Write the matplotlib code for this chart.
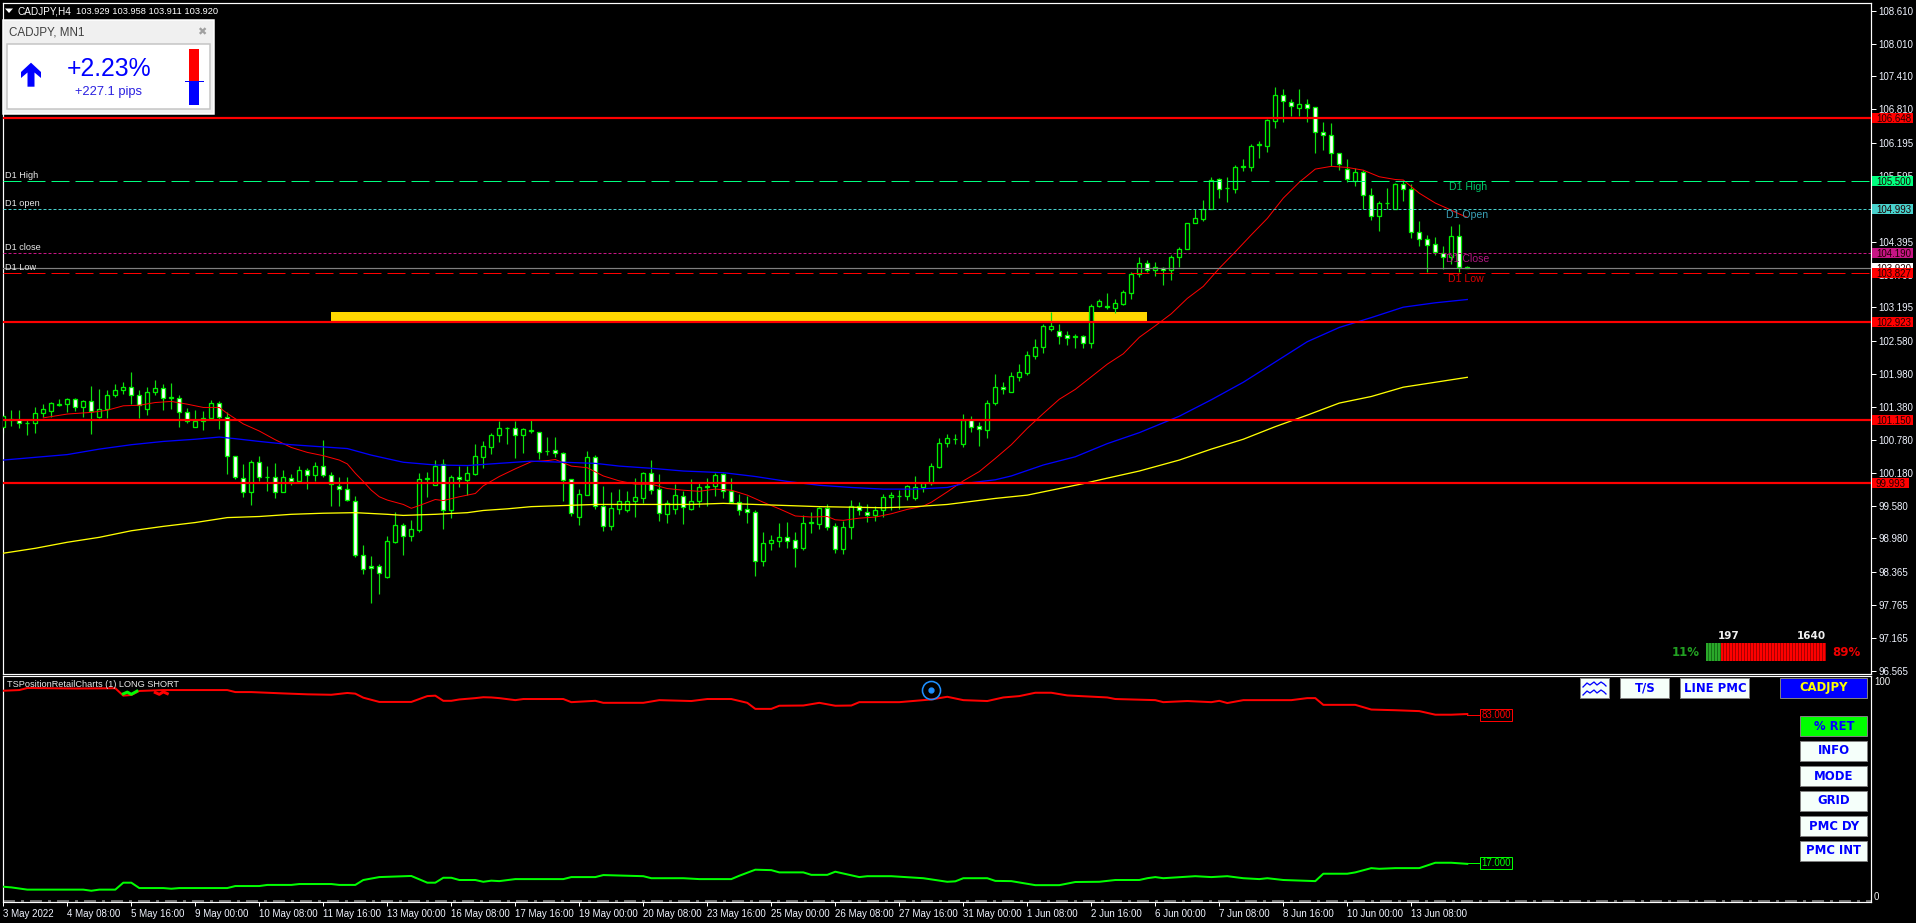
import matplotlib
matplotlib.use("Agg")
import matplotlib.pyplot as plt
from matplotlib.patches import Rectangle

W, H = 1916, 923
FONT = 'Liberation Sans'

# H4 candles
opens = [101.02, 101.15, 101.15, 101.08, 101.08, 101.26, 101.30, 101.42, 101.43, 101.52,
         101.37, 101.48, 101.19, 101.35, 101.59, 101.68, 101.75, 101.59, 101.35, 101.66,
         101.72, 101.55, 101.54, 101.28, 101.02, 101.12, 101.18, 101.45, 101.20, 100.49,
         100.08, 99.83, 100.37, 100.10, 100.11, 99.83, 100.09, 100.03, 100.22, 100.14,
         100.31, 100.14, 99.93, 99.89, 99.67, 98.67, 98.47, 98.47, 98.28, 98.92,
         99.22, 99.03, 99.13, 100.06, 99.96, 100.33, 99.50, 100.11, 100.05, 100.16,
         100.47, 100.65, 100.86, 100.99, 100.99, 100.86, 100.94, 100.93, 100.57, 100.59,
         100.53, 100.06, 99.38, 99.78, 100.46, 99.58, 99.21, 99.52, 99.49, 99.66,
         99.72, 100.17, 99.88, 99.43, 99.52, 99.75, 99.52, 99.67, 99.92, 99.94,
         100.15, 99.84, 99.65, 99.51, 99.47, 98.57, 98.89, 98.94, 99.00, 98.95,
         98.81, 99.27, 99.25, 99.53, 99.20, 98.78, 99.18, 99.58, 99.46, 99.41,
         99.49, 99.73, 99.75, 99.75, 99.71, 99.91, 99.99, 100.28, 100.73, 100.79,
         100.71, 101.14, 101.04, 100.95, 101.46, 101.75, 101.66, 101.93, 102.00, 102.31,
         102.48, 102.81, 102.76, 102.69, 102.66, 102.67, 102.55, 103.23, 103.23, 103.19,
         103.26, 103.45, 103.80, 104.00, 103.87, 103.92, 103.87, 104.11, 104.26, 104.73,
         104.81, 105.00, 105.53, 105.37, 105.36, 105.75, 105.76, 106.16, 106.15, 106.60,
         107.07, 106.95, 106.84, 106.90, 106.85, 106.39, 106.35, 106.01, 105.73, 105.51,
         105.66, 105.24, 104.87, 105.10, 105.00, 105.44, 105.35, 104.58, 104.44, 104.35,
         104.19, 104.12, 104.49, 103.929]
highs = [101.29, 101.32, 101.32, 101.15, 101.38, 101.43, 101.47, 101.52, 101.54, 101.54,
         101.51, 101.76, 101.71, 101.69, 101.80, 101.84, 102.02, 101.69, 101.74, 101.87,
         101.80, 101.82, 101.60, 101.36, 101.32, 101.31, 101.51, 101.48, 101.28, 100.49,
         100.34, 100.41, 100.48, 100.30, 100.36, 100.23, 100.16, 100.31, 100.26, 100.37,
         100.78, 100.19, 100.11, 100.11, 99.75, 98.86, 98.66, 98.51, 99.02, 99.47,
         99.26, 99.32, 100.18, 100.19, 100.41, 100.43, 100.14, 100.30, 100.30, 100.70,
         100.75, 100.91, 101.12, 101.01, 101.12, 100.99, 101.14, 100.93, 100.83, 100.83,
         100.55, 100.06, 99.88, 100.58, 100.51, 99.94, 99.83, 99.88, 99.85, 100.08,
         100.19, 100.41, 100.16, 99.69, 99.97, 99.85, 100.06, 99.99, 100.08, 100.17,
         100.18, 100.08, 99.79, 99.75, 99.50, 99.10, 99.04, 99.26, 99.28, 99.10,
         99.41, 99.46, 99.56, 99.61, 99.26, 99.30, 99.68, 99.64, 99.61, 99.57,
         99.79, 99.83, 99.86, 99.95, 100.12, 100.01, 100.36, 100.81, 100.89, 100.88,
         101.25, 101.21, 101.10, 101.51, 101.98, 101.83, 102.02, 102.16, 102.40, 102.62,
         102.89, 103.12, 102.89, 102.76, 102.71, 102.69, 103.26, 103.35, 103.46, 103.35,
         103.51, 103.84, 104.12, 104.06, 104.02, 103.94, 104.15, 104.30, 104.73, 104.99,
         105.16, 105.58, 105.56, 105.58, 105.79, 105.90, 106.18, 106.23, 106.63, 107.22,
         107.18, 107.00, 107.18, 107.00, 106.85, 106.58, 106.56, 106.01, 105.90, 105.74,
         105.70, 105.38, 105.14, 105.38, 105.46, 105.50, 105.45, 104.77, 104.52, 104.48,
         104.32, 104.68, 104.72, 103.958]
lows = [100.91, 101.03, 100.99, 100.87, 100.91, 101.20, 101.20, 101.40, 101.29, 101.31,
        101.20, 100.89, 101.17, 101.17, 101.56, 101.62, 101.43, 101.17, 101.23, 101.60,
        101.32, 101.35, 101.02, 101.09, 101.01, 100.96, 101.16, 100.98, 100.16, 100.07,
        99.74, 99.59, 100.02, 99.85, 99.72, 99.82, 99.95, 100.02, 99.88, 100.02,
        100.11, 99.57, 99.57, 99.67, 98.65, 98.33, 97.81, 97.97, 98.26, 98.90,
        98.68, 98.93, 99.10, 99.74, 99.95, 99.15, 99.35, 99.92, 99.77, 100.14,
        100.27, 100.52, 100.74, 100.70, 100.45, 100.53, 100.90, 100.43, 100.50, 100.46,
        99.66, 99.39, 99.23, 99.77, 99.52, 99.12, 99.13, 99.43, 99.47, 99.37,
        99.62, 99.79, 99.30, 99.26, 99.43, 99.24, 99.50, 99.55, 99.57, 99.75,
        99.71, 99.62, 99.41, 99.26, 98.29, 98.48, 98.77, 98.82, 98.81, 98.46,
        98.77, 99.08, 99.15, 99.13, 98.71, 98.70, 98.97, 99.41, 99.28, 99.30,
        99.37, 99.50, 99.52, 99.68, 99.68, 99.83, 99.95, 100.27, 100.65, 100.70,
        100.65, 100.92, 100.67, 100.81, 101.41, 101.62, 101.65, 101.85, 101.96, 102.25,
        102.36, 102.77, 102.53, 102.51, 102.45, 102.45, 102.45, 103.20, 103.17, 103.09,
        103.24, 103.35, 103.75, 103.84, 103.77, 103.60, 103.70, 103.93, 104.26, 104.73,
        104.77, 105.00, 105.19, 105.12, 105.28, 105.69, 105.69, 105.92, 106.03, 106.47,
        106.58, 106.69, 106.68, 106.58, 106.01, 106.07, 105.78, 105.70, 105.48, 105.41,
        104.99, 104.79, 104.59, 105.00, 105.00, 105.14, 104.46, 104.32, 103.84, 104.15,
        103.90, 103.99, 103.84, 103.911]
closes = [101.21, 101.16, 101.08, 101.09, 101.26, 101.34, 101.45, 101.44, 101.52, 101.37,
          101.48, 101.31, 101.35, 101.59, 101.68, 101.75, 101.59, 101.41, 101.66, 101.72,
          101.55, 101.56, 101.28, 101.12, 101.13, 101.18, 101.45, 101.20, 100.49, 100.11,
          99.83, 100.37, 100.11, 100.11, 99.83, 100.11, 100.03, 100.22, 100.14, 100.31,
          100.14, 99.98, 99.89, 99.69, 98.67, 98.43, 98.44, 98.34, 98.93, 99.22,
          99.03, 99.15, 100.06, 100.09, 100.31, 99.50, 100.11, 100.06, 100.17, 100.48,
          100.67, 100.86, 100.99, 101.00, 100.86, 100.97, 100.95, 100.56, 100.58, 100.53,
          100.05, 99.45, 99.79, 100.46, 99.58, 99.21, 99.53, 99.66, 99.66, 99.73,
          100.17, 99.87, 99.45, 99.62, 99.77, 99.55, 99.66, 99.91, 99.93, 100.13,
          99.84, 99.65, 99.50, 99.47, 98.57, 98.89, 98.95, 99.00, 98.94, 98.81,
          99.26, 99.28, 99.53, 99.19, 98.78, 99.18, 99.58, 99.49, 99.41, 99.49,
          99.73, 99.77, 99.76, 99.93, 99.91, 99.99, 100.30, 100.73, 100.81, 100.80,
          101.14, 101.02, 100.97, 101.46, 101.75, 101.71, 101.94, 102.01, 102.32, 102.48,
          102.85, 102.85, 102.68, 102.64, 102.67, 102.55, 103.23, 103.31, 103.20, 103.27,
          103.47, 103.80, 104.00, 103.87, 103.93, 103.87, 104.11, 104.26, 104.73, 104.82,
          105.00, 105.52, 105.36, 105.38, 105.75, 105.78, 106.15, 106.17, 106.61, 107.07,
          106.96, 106.88, 106.90, 106.84, 106.39, 106.35, 106.01, 105.81, 105.53, 105.66,
          105.24, 104.87, 105.11, 105.11, 105.44, 105.35, 104.58, 104.44, 104.34, 104.20,
          104.11, 104.49, 103.94, 103.920]

# moving averages, read at these bars
red_ma_bars = [5, 8, 11, 13, 15, 17, 19, 21, 23, 25, 27, 28, 30, 32, 34, 36, 38, 40, 42, 43,
               44, 45, 46, 47, 48, 50, 51, 52, 54, 55, 57, 59, 60, 62, 64, 66, 68, 69, 71, 73,
               75, 77, 79, 81, 83, 85, 87, 89, 91, 93, 95, 97, 99, 101, 103, 104, 105, 107, 109, 111,
               113, 115, 116, 118, 120, 122, 124, 126, 128, 130, 132, 134, 136, 138, 140, 142, 144, 146, 148, 150,
               152, 154, 156, 158, 160, 162, 164, 166, 168, 170, 172, 174, 175, 177, 179, 181, 182, 183]
red_ma = [101.18, 101.25, 101.28, 101.32, 101.40, 101.41, 101.46, 101.48, 101.43, 101.37, 101.37, 101.26, 101.07, 100.94, 100.78, 100.64, 100.55, 100.49, 100.41, 100.34,
          100.17, 100.02, 99.86, 99.74, 99.68, 99.60, 99.53, 99.58, 99.69, 99.67, 99.74, 99.80, 99.94, 100.11, 100.25, 100.38, 100.40, 100.42, 100.30, 100.27,
          100.12, 100.03, 99.97, 99.97, 99.89, 99.86, 99.84, 99.88, 99.86, 99.77, 99.64, 99.52, 99.39, 99.37, 99.38, 99.32, 99.31, 99.35, 99.37, 99.43,
          99.51, 99.57, 99.64, 99.83, 100.03, 100.20, 100.44, 100.69, 100.99, 101.26, 101.52, 101.70, 101.93, 102.16, 102.35, 102.65, 102.86, 103.08, 103.36, 103.58,
          103.91, 104.21, 104.52, 104.82, 105.19, 105.48, 105.72, 105.77, 105.75, 105.70, 105.58, 105.53, 105.52, 105.28, 105.10, 104.97, 104.90, 104.84]
blue_ma_bars = [0, 4, 8, 12, 16, 20, 24, 27, 29, 32, 36, 40, 43, 46, 50, 54, 58, 62, 66, 70,
                74, 77, 81, 85, 90, 94, 98, 102, 106, 110, 114, 118, 120, 124, 126, 130, 134, 138, 142, 147,
                151, 155, 159, 163, 167, 171, 175, 179, 183]
blue_ma = [100.41, 100.46, 100.51, 100.61, 100.69, 100.75, 100.79, 100.83, 100.80, 100.75, 100.69, 100.65, 100.62, 100.50, 100.37, 100.32, 100.31, 100.35, 100.39, 100.37,
           100.35, 100.30, 100.26, 100.21, 100.18, 100.11, 100.02, 99.95, 99.91, 99.88, 99.88, 99.91, 99.98, 100.05, 100.12, 100.32, 100.47, 100.71, 100.91, 101.21,
           101.51, 101.83, 102.20, 102.57, 102.83, 103.01, 103.20, 103.28, 103.34]
yellow_ma_bars = [0, 4, 8, 12, 16, 20, 24, 28, 32, 36, 40, 44, 48, 50, 54, 58, 60, 63, 66, 70,
                  74, 80, 86, 90, 94, 98, 102, 106, 110, 114, 118, 124, 128, 132, 135, 138, 142, 147, 151, 155,
                  159, 163, 167, 171, 175, 179, 183]
yellow_ma = [98.71, 98.80, 98.91, 99.00, 99.12, 99.20, 99.27, 99.36, 99.38, 99.42, 99.44, 99.45, 99.42, 99.40, 99.42, 99.45, 99.49, 99.52, 99.56, 99.58,
             99.60, 99.60, 99.60, 99.62, 99.60, 99.58, 99.56, 99.55, 99.54, 99.56, 99.60, 99.71, 99.77, 99.89, 99.98, 100.08, 100.21, 100.41, 100.61, 100.79,
             101.02, 101.23, 101.45, 101.57, 101.74, 101.83, 101.92]

# horizontal levels
red_levels = [106.648, 102.923, 101.150, 99.993]
d1_high, d1_open, d1_close, d1_low = 105.500, 104.993, 104.190, 103.827
last_price = 103.920
zone_start, zone_end, zone_low, zone_high = 41, 143, 102.95, 103.11

price_ticks = [108.610, 108.010, 107.410, 106.810, 106.195, 105.595, 104.995, 104.395, 103.795, 103.195, 102.580,
               101.980, 101.380, 100.780, 100.180, 99.580, 98.980, 98.365, 97.765, 97.165, 96.565]
date_labels = ['3 May 2022', '4 May 08:00', '5 May 16:00', '9 May 00:00', '10 May 08:00', '11 May 16:00',
               '13 May 00:00', '16 May 08:00', '17 May 16:00', '19 May 00:00', '20 May 08:00', '23 May 16:00',
               '25 May 00:00', '26 May 08:00', '27 May 16:00', '31 May 00:00', '1 Jun 08:00', '2 Jun 16:00',
               '6 Jun 00:00', '7 Jun 08:00', '8 Jun 16:00', '10 Jun 00:00', '13 Jun 08:00']

# retail positioning pane
short_bars = [0, 2, 3, 9, 14, 15, 16, 17, 20, 28, 29, 31, 35, 38, 41, 43, 44, 45, 47, 51, 53, 54, 55, 56, 57, 59, 60, 61,
              62, 64, 65, 70, 71, 74, 75, 80, 82, 86, 88, 91, 93, 94, 96, 97, 100, 102, 104, 106, 107, 112, 116, 118, 120, 123, 125, 127,
              129, 131, 133, 138, 139, 144, 145, 148, 151, 152, 153, 155, 161, 163, 164, 165, 169, 171, 174, 177, 179, 181, 183]
short_pct = [93.9, 94.2, 95.1, 94.9, 95.0, 91.7, 92.0, 93.8, 94.2, 94.2, 93.3, 93.3, 92.7, 92.3, 92.1, 92.9, 92.6, 90.8, 88.9, 88.9, 91.5, 91.7, 89.4, 89.4, 90.0, 90.6, 91.0, 90.9,
             90.6, 89.7, 90.2, 90.2, 88.8, 89.4, 88.5, 88.5, 89.7, 89.3, 90.2, 90.2, 88.5, 85.8, 85.8, 87.2, 87.3, 88.5, 87.2, 87.3, 88.8, 88.8, 90.0, 91.2, 89.7, 89.3, 90.9, 91.5,
             93.0, 93.0, 91.8, 90.9, 90.2, 89.7, 88.8, 89.3, 88.8, 89.4, 88.4, 89.7, 89.7, 90.6, 90.6, 87.6, 87.6, 85.5, 85.2, 84.8, 83.2, 83.2, 83.5]
long_bars = [0, 1, 3, 10, 11, 12, 14, 15, 16, 17, 20, 21, 22, 28, 29, 32, 33, 36, 37, 41, 42, 44, 45, 47, 51, 53, 54, 55, 56, 57, 59, 60, 61,
             62, 64, 70, 71, 74, 75, 80, 81, 85, 87, 91, 92, 94, 96, 97, 100, 101, 103, 104, 107, 108, 111, 115, 118, 119, 120, 123, 124, 126,
             129, 132, 134, 137, 139, 142, 143, 144, 145, 149, 151, 153, 155, 157, 158, 160, 164, 165, 168, 169, 171, 172, 174, 177, 179, 181, 183]
long_pct = [6.4, 6.1, 5.1, 5.1, 4.6, 5.1, 5.1, 8.2, 8.2, 5.8, 5.8, 5.5, 5.8, 5.8, 6.7, 6.7, 7.2, 7.2, 7.6, 7.6, 7.2, 7.2, 9.4, 10.7, 11.2, 8.2, 8.2, 10.4, 10.4, 9.4, 9.4, 8.6, 9.1,
            8.9, 9.8, 9.8, 10.7, 10.7, 11.6, 11.1, 10.2, 10.2, 9.8, 9.8, 11.3, 14.0, 13.8, 12.8, 12.8, 11.7, 11.7, 13.1, 10.7, 11.1, 11.1, 10.2, 8.6, 8.8, 10.2, 10.2, 9.0, 8.9,
            7.1, 7.1, 8.5, 8.6, 9.4, 9.4, 10.2, 10.7, 10.2, 11.1, 10.7, 11.1, 10.2, 9.8, 10.2, 9.4, 8.9, 12.2, 12.2, 12.8, 14.7, 14.4, 14.7, 14.7, 17.1, 17.1, 16.6]
cross_bars = [15, 15.5, 16, 16.7]
cross_long = [92.5, 93.3, 92.3, 93.7]
cross2_bars = [19, 19.5, 20, 20.5]
cross2_short = [93.1, 92.3, 93.4, 92.6]
last_short, last_long = 83.0, 17.0


def pane(left, top, right, bottom):
    return fig.add_axes([left / W, 1 - bottom / H, (right - left) / W, (bottom - top) / H])


fig = plt.figure(figsize=(W / 100, H / 100), dpi=100, facecolor='black')
PX = 0.72  # one pixel in points

ax = pane(2.5, 2.5, 1870.5, 673.5)
ax.set_facecolor('black')
ax.set_xlim(-0.1, 233.4)
ax.set_ylim(96.515, 108.76)
for s in ax.spines.values():
    s.set_color('white')
    s.set_linewidth(PX * 1.2)
ax.set_xticks([])
ax.yaxis.tick_right()
ax.set_yticks(price_ticks)
ax.set_yticklabels(['%.3f' % t for t in price_ticks], family=FONT, fontsize=7, color='#f0f4ff')
ax.tick_params(axis='y', color='white', length=3.6, width=PX, pad=2)

bars = list(range(len(opens)))
ax.add_patch(Rectangle((zone_start, zone_low), zone_end - zone_start, zone_high - zone_low,
                       facecolor='#ffd700', edgecolor='none', zorder=1))
ax.vlines(bars, lows, highs, color='#10e010', linewidth=PX * 1.2, zorder=2)
fills = ['black' if c >= o else 'white' for o, c in zip(opens, closes)]
ax.bar(bars, [c - o for o, c in zip(opens, closes)], bottom=opens, width=0.48, color=fills,
       edgecolor='#00f000', linewidth=PX * 1.3, zorder=3)

ax.plot(red_ma_bars, red_ma, color='#ff0000', lw=PX, zorder=4)
ax.plot(blue_ma_bars, blue_ma, color='#0000ff', lw=PX * 1.3, zorder=4)
ax.plot(yellow_ma_bars, yellow_ma, color='#ffff00', lw=PX * 1.3, zorder=4)

for lv in red_levels:
    ax.axhline(lv, color='#ff0000', lw=PX * 2.2, zorder=5)
ax.axhline(d1_high, color='#00ff7f', lw=PX, dashes=(18, 6), zorder=5)
ax.axhline(d1_low, color='#ff0000', lw=PX, dashes=(18, 6), zorder=5)
ax.axhline(d1_open, color='#48d1cc', lw=PX, dashes=(3, 2), zorder=5)
ax.axhline(d1_close, color='#c71585', lw=PX, dashes=(3, 2), zorder=5)
ax.axhline(last_price, color='#808080', lw=PX * 1.2, zorder=5)

# level labels on the price axis
price_tags = [(last_price, 'white'), (106.648, '#ff0000'), (d1_high, '#00ff7f'), (d1_open, '#48d1cc'),
              (d1_close, '#c71585'), (d1_low, '#ff0000'), (102.923, '#ff0000'), (101.150, '#ff0000'),
              (99.993, '#ff0000')]
trans = ax.get_yaxis_transform()
tag_left = 1 + 1.5 / 1868
for n, (value, col) in enumerate(price_tags):
    tag_width = 41 / 1868 if value > 100 else 37 / 1868
    ax.add_patch(Rectangle((tag_left, value - 0.0912), tag_width, 0.1824, transform=trans, fc=col, ec='none',
                           clip_on=False, zorder=10 + n))
    ax.text(1 + 5.5 / 1868, value, '%.3f' % value, transform=trans, va='center_baseline', ha='left', family=FONT,
            fontsize=7, color='#200000', clip_on=False, zorder=10 + n)

# sub window with retail positions
sub = pane(2.5, 675.5, 1870.5, 901.5)
sub.set_facecolor('black')
sub.set_xlim(-0.1, 233.4)
sub.set_ylim(-0.2, 100.7)
for s in sub.spines.values():
    s.set_color('white')
    s.set_linewidth(PX * 1.2)
sub.set_yticks([])
sub.set_xticks(list(range(0, len(date_labels) * 8, 8)))
sub.set_xticklabels(date_labels, ha='left', family=FONT, fontsize=7, color='#f0f4ff')
sub.tick_params(axis='x', color='white', length=3, width=PX, pad=2.5)
sub.axhline(0, color='#909090', lw=PX * 1.5, dashes=(8, 4, 2, 4), zorder=2)
sub.plot(short_bars, short_pct, color='#ff0000', lw=PX * 2, zorder=3)
sub.plot(long_bars, long_pct, color='#00ff00', lw=PX * 2, zorder=3)
sub.plot(cross_bars, cross_long, color='#00ff00', lw=PX * 3, zorder=4)
sub.plot(cross2_bars, cross2_short, color='#ff0000', lw=PX * 3, zorder=4)
sub.plot([183, 185], [last_short, last_short], color='#ff0000', lw=PX, zorder=3)
sub.plot([183, 185], [last_long, last_long], color='#00ff00', lw=PX, zorder=3)
sub.text(186.6, last_short, '%.3f' % last_short, ha='center', va='center', family=FONT, fontsize=7, color='#ff0000',
         bbox=dict(boxstyle='square,pad=0.12', fc='black', ec='#ff0000', lw=PX), zorder=5)
sub.text(186.6, last_long, '%.3f' % last_long, ha='center', va='center', family=FONT, fontsize=7, color='#00ff00',
         bbox=dict(boxstyle='square,pad=0.12', fc='black', ec='#00ff00', lw=PX), zorder=5)
sub.plot([115.9], [94.2], 'o', ms=13, mfc='none', mec='#1e90ff', mew=PX * 1.6, clip_on=False, zorder=6)
sub.plot([115.9], [94.2], 'o', ms=3.5, color='#1e90ff', clip_on=False, zorder=6)

# overlay in pixels for the terminal widgets
ui = fig.add_axes([0, 0, 1, 1], zorder=20)
ui.set_xlim(0, W)
ui.set_ylim(H, 0)
ui.axis('off')

ui.fill([5, 13, 9], [8.5, 8.5, 13], color='white', lw=0)
ui.text(18, 11, 'CADJPY,H4', family=FONT, fontsize=7.2, color='white', va='center')
ui.text(76, 11, '103.929 103.958 103.911 103.920', family=FONT, fontsize=6.7, color='white', va='center')
ui.text(5.5, 175, 'D1 High', family=FONT, fontsize=6.6, color='#e8e8e8', va='center')
ui.text(5.5, 203, 'D1 open', family=FONT, fontsize=6.6, color='#e8e8e8', va='center')
ui.text(5.5, 247, 'D1 close', family=FONT, fontsize=6.6, color='#e8e8e8', va='center')
ui.text(5.5, 267, 'D1 Low', family=FONT, fontsize=6.6, color='#e8e8e8', va='center')
ui.text(1449, 187, 'D1 High', family=FONT, fontsize=7.6, color='#00c468', va='center')
ui.text(1446, 215, 'D1 Open', family=FONT, fontsize=7.6, color='#3a9fb5', va='center')
ui.text(1446, 259, 'D1 Close', family=FONT, fontsize=7.6, color='#b01680', va='center')
ui.text(1448, 279, 'D1 Low', family=FONT, fontsize=7.6, color='#d80000', va='center')

# monthly info box
ui.add_patch(Rectangle((3.5, 19.5), 211, 94, fc='#f0f0f0', ec='white', lw=PX * 1.5))
ui.add_patch(Rectangle((7.5, 43.5), 203, 65.5, fc='white', ec='#c4c4c4', lw=PX * 1.5))
ui.text(9, 32.5, 'CADJPY, MN1', family=FONT, fontsize=8.4, color='#404040', va='center')
ui.text(202, 32, '✖', family='DejaVu Sans', fontsize=8, color='#a0a0a0', va='center', ha='center')
ui.fill([31, 41, 41, 34.5, 34.5, 27.5, 27.5, 21, 21], [62.7, 72, 78, 72.5, 86.7, 86.7, 72.5, 78, 72],
        color='#0000ff', lw=0)
ui.text(109, 68.5, '+2.23%', family=FONT, fontsize=17.8, color='#0000ff', va='center', ha='center')
ui.text(109, 92.5, '+227.1 pips', family=FONT, fontsize=9.3, color='#2a20e0', va='center', ha='center')
ui.add_patch(Rectangle((189, 49), 10, 32, fc='#ff0000', ec='none'))
ui.add_patch(Rectangle((189, 81), 10, 24, fc='#0000ff', ec='none'))
ui.plot([185, 203], [81, 81], color='#0000ff', lw=PX)

# long / short gauge
gauge_green = 5
gauge_red = 35
ui.add_patch(Rectangle((1706, 643), gauge_green * 3, 18, fc='#157015', ec='none'))
ui.add_patch(Rectangle((1706 + gauge_green * 3, 643), gauge_red * 3, 18, fc='#a80000', ec='none'))
for k in range(gauge_green + gauge_red):
    col = '#2aa82a' if k < gauge_green else '#ff0000'
    ui.add_patch(Rectangle((1706 + k * 3, 643), 2, 18, fc=col, ec='none', snap=True))
ui.text(1729, 636, '197', family='DejaVu Sans', weight='bold', fontsize=7.5, color='#f0f0f0', ha='center', va='center')
ui.text(1811, 636, '1640', family='DejaVu Sans', weight='bold', fontsize=7.5, color='#f0f0f0', ha='center', va='center')
ui.text(1686, 652.5, '11%', family='DejaVu Sans', weight='bold', fontsize=8.5, color='#22a022', ha='center', va='center')
ui.text(1846, 652.5, '89%', family='DejaVu Sans', weight='bold', fontsize=8.5, color='#ee0000', ha='center', va='center')

# sub window texts and buttons
ui.text(7, 684.5, 'TSPositionRetailCharts (1) LONG SHORT', family=FONT, fontsize=6.6, color='#e8e8e8', va='center')
ui.text(1874, 682, '100', family=FONT, fontsize=7, color='#f0f0f0', va='center')
ui.text(1874, 897, '0', family=FONT, fontsize=7, color='#f0f0f0', va='center')


def button(x0, x1, y0, label, fc='#f5fffa', tc='#0000ff'):
    ui.add_patch(Rectangle((x0, y0), x1 - x0, 19.5, fc=fc, ec='#808080', lw=PX))
    if label:
        ui.text((x0 + x1) / 2, y0 + 10, label, family='DejaVu Sans', weight='bold', fontsize=8.4,
                color=tc, ha='center', va='center')


button(1580.5, 1609.5, 678, '')
for yy in (684, 692):
    ui.plot([1583, 1587, 1590, 1594, 1597, 1601, 1604, 1606], [yy + 3, yy - 1, yy + 1, yy - 2, yy + 1, yy - 2, yy, yy + 2],
            color='#0000ff', lw=PX * 1.3)
button(1620.5, 1669.5, 678, 'T/S')
button(1680.5, 1749.5, 678, 'LINE PMC')
button(1780.5, 1867.5, 678, 'CADJPY', fc='#0000ff', tc='#ffff00')
button(1800.5, 1867.5, 716, '% RET', fc='#00ff00')
button(1800.5, 1867.5, 741, 'INFO')
button(1800.5, 1867.5, 766, 'MODE')
button(1800.5, 1867.5, 791, 'GRID')
button(1800.5, 1867.5, 816, 'PMC DY')
button(1800.5, 1867.5, 841, 'PMC INT')

fig.savefig('out.png', dpi=100, facecolor='black')
